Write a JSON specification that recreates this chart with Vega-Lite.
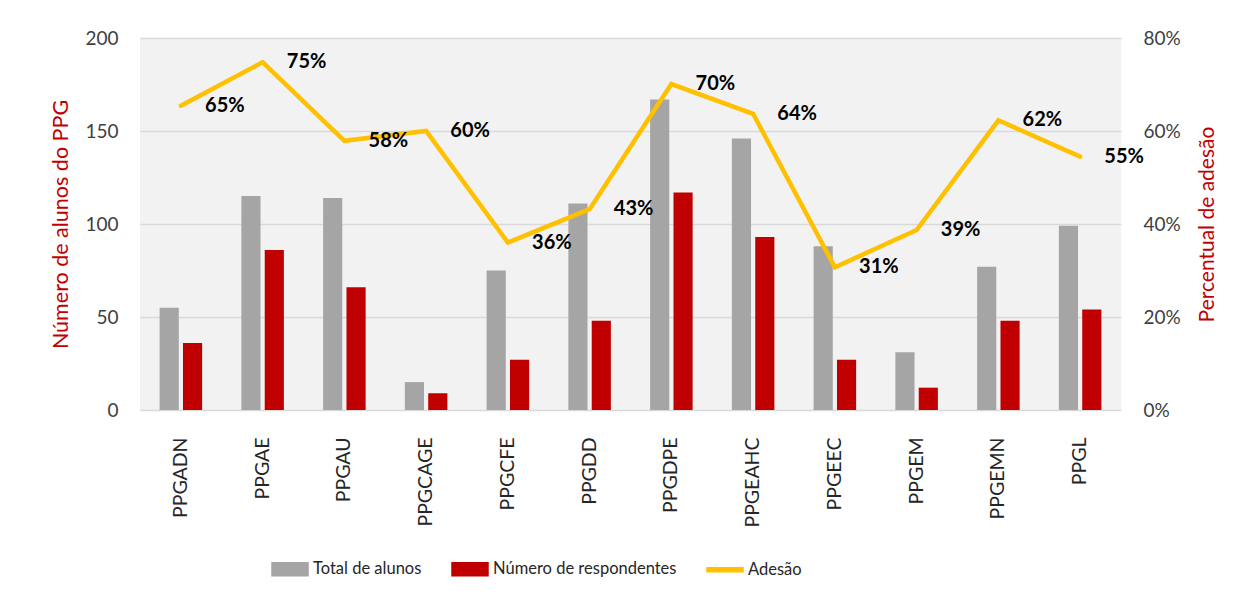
{
  "$schema": "https://vega.github.io/schema/vega-lite/v6.json",
  "autosize": "none",
  "width": 981,
  "height": 372,
  "padding": {"left": 140, "top": 38, "right": 122, "bottom": 188},
  "background": "white",
  "config": {
    "view": {"fill": "#F2F2F2", "stroke": null},
    "font": "Lato",
    "axis": {"labelFont": "Lato", "titleFont": "Lato", "labelColor": "#404040", "ticks": false, "domain": false}
  },
  "data": {
    "values": [
      {"programa": "PPGADN", "Total de alunos": 55, "Número de respondentes": 36, "adesao": 0.6545},
      {"programa": "PPGAE", "Total de alunos": 115, "Número de respondentes": 86, "adesao": 0.748},
      {"programa": "PPGAU", "Total de alunos": 114, "Número de respondentes": 66, "adesao": 0.579},
      {"programa": "PPGCAGE", "Total de alunos": 15, "Número de respondentes": 9, "adesao": 0.600},
      {"programa": "PPGCFE", "Total de alunos": 75, "Número de respondentes": 27, "adesao": 0.360},
      {"programa": "PPGDD", "Total de alunos": 111, "Número de respondentes": 48, "adesao": 0.432},
      {"programa": "PPGDPE", "Total de alunos": 167, "Número de respondentes": 117, "adesao": 0.701},
      {"programa": "PPGEAHC", "Total de alunos": 146, "Número de respondentes": 93, "adesao": 0.637},
      {"programa": "PPGEEC", "Total de alunos": 88, "Número de respondentes": 27, "adesao": 0.307},
      {"programa": "PPGEM", "Total de alunos": 31, "Número de respondentes": 12, "adesao": 0.387},
      {"programa": "PPGEMN", "Total de alunos": 77, "Número de respondentes": 48, "adesao": 0.623},
      {"programa": "PPGL", "Total de alunos": 99, "Número de respondentes": 54, "adesao": 0.545}
    ]
  },
  "encoding": {
    "x": {
      "field": "programa", "type": "nominal", "sort": null,
      "scale": {"paddingInner": 0.48, "paddingOuter": 0.24},
      "axis": {"title": null, "labelAngle": -90, "labelFontSize": 19.5, "labelPadding": 27, "labelColor": "#262626", "grid": false}
    }
  },
  "layer": [
    {
      "transform": [{"fold": ["Total de alunos", "Número de respondentes"], "as": ["serie", "valor"]}],
      "mark": {"type": "bar"},
      "encoding": {
        "xOffset": {"field": "serie", "type": "nominal", "sort": ["Total de alunos", "Número de respondentes"], "scale": {"paddingInner": 0.18}},
        "y": {
          "field": "valor", "type": "quantitative",
          "scale": {"domain": [0, 200]},
          "axis": {
            "title": "Número de alunos do PPG", "titleColor": "#C00000", "titleFontSize": 21.5, "titleFontWeight": "normal",
            "titlePadding": 12, "values": [0, 50, 100, 150, 200], "labelOverlap": false,
            "labelFontSize": 19, "labelPadding": 22, "grid": true, "gridColor": "#D9D9D9", "gridWidth": 1.3
          }
        },
        "color": {
          "field": "serie", "type": "nominal",
          "scale": {"domain": ["Total de alunos", "Número de respondentes", "Adesão"], "range": ["#A5A5A5", "#C00000", "#FFC000"]},
          "legend": {
            "orient": "none", "legendX": 131, "legendY": 512, "direction": "horizontal", "title": null,
            "labelFontSize": 16.5, "labelColor": "#262626", "labelFont": "Lato", "labelOffset": 4, "labelLimit": 400,
            "columnPadding": 27, "symbolSize": 1296,
            "encode": {
              "symbols": {
                "update": {
                  "shape": {"signal": "datum.value === 'Adesão' ? 'M-1,-0.11H1V0.11H-1Z' : 'M-1,-0.36H1V0.36H-1Z'"},
                  "fill": {"scale": "color", "field": "value"},
                  "stroke": {"value": "transparent"},
                  "opacity": {"value": 1}
                }
              }
            }
          }
        }
      }
    },
    {
      "mark": {"type": "line", "strokeWidth": 4.5, "strokeJoin": "miter", "strokeCap": "round"},
      "encoding": {
        "y": {
          "field": "adesao", "type": "quantitative",
          "scale": {"domain": [0, 0.8]},
          "axis": {
            "orient": "right", "format": ".0%", "values": [0, 0.2, 0.4, 0.6, 0.8], "labelOverlap": false,
            "title": "Percentual de adesão", "titleColor": "#C00000", "titleFontSize": 21, "titleFontWeight": "normal",
            "titleAngle": -90, "titlePadding": 37, "labelFontSize": 19, "labelPadding": 22, "grid": false
          }
        },
        "color": {"datum": "Adesão"}
      }
    },
    {
      "mark": {"type": "text", "dx": 44, "fontSize": 20, "fontWeight": "bold", "color": "#000000", "baseline": "middle", "align": "center"},
      "encoding": {
        "y": {"field": "adesao", "type": "quantitative", "scale": {"domain": [0, 0.8]}, "axis": null},
        "text": {"field": "adesao", "type": "quantitative", "format": ".0%"}
      }
    }
  ],
  "resolve": {"scale": {"y": "independent"}}
}
